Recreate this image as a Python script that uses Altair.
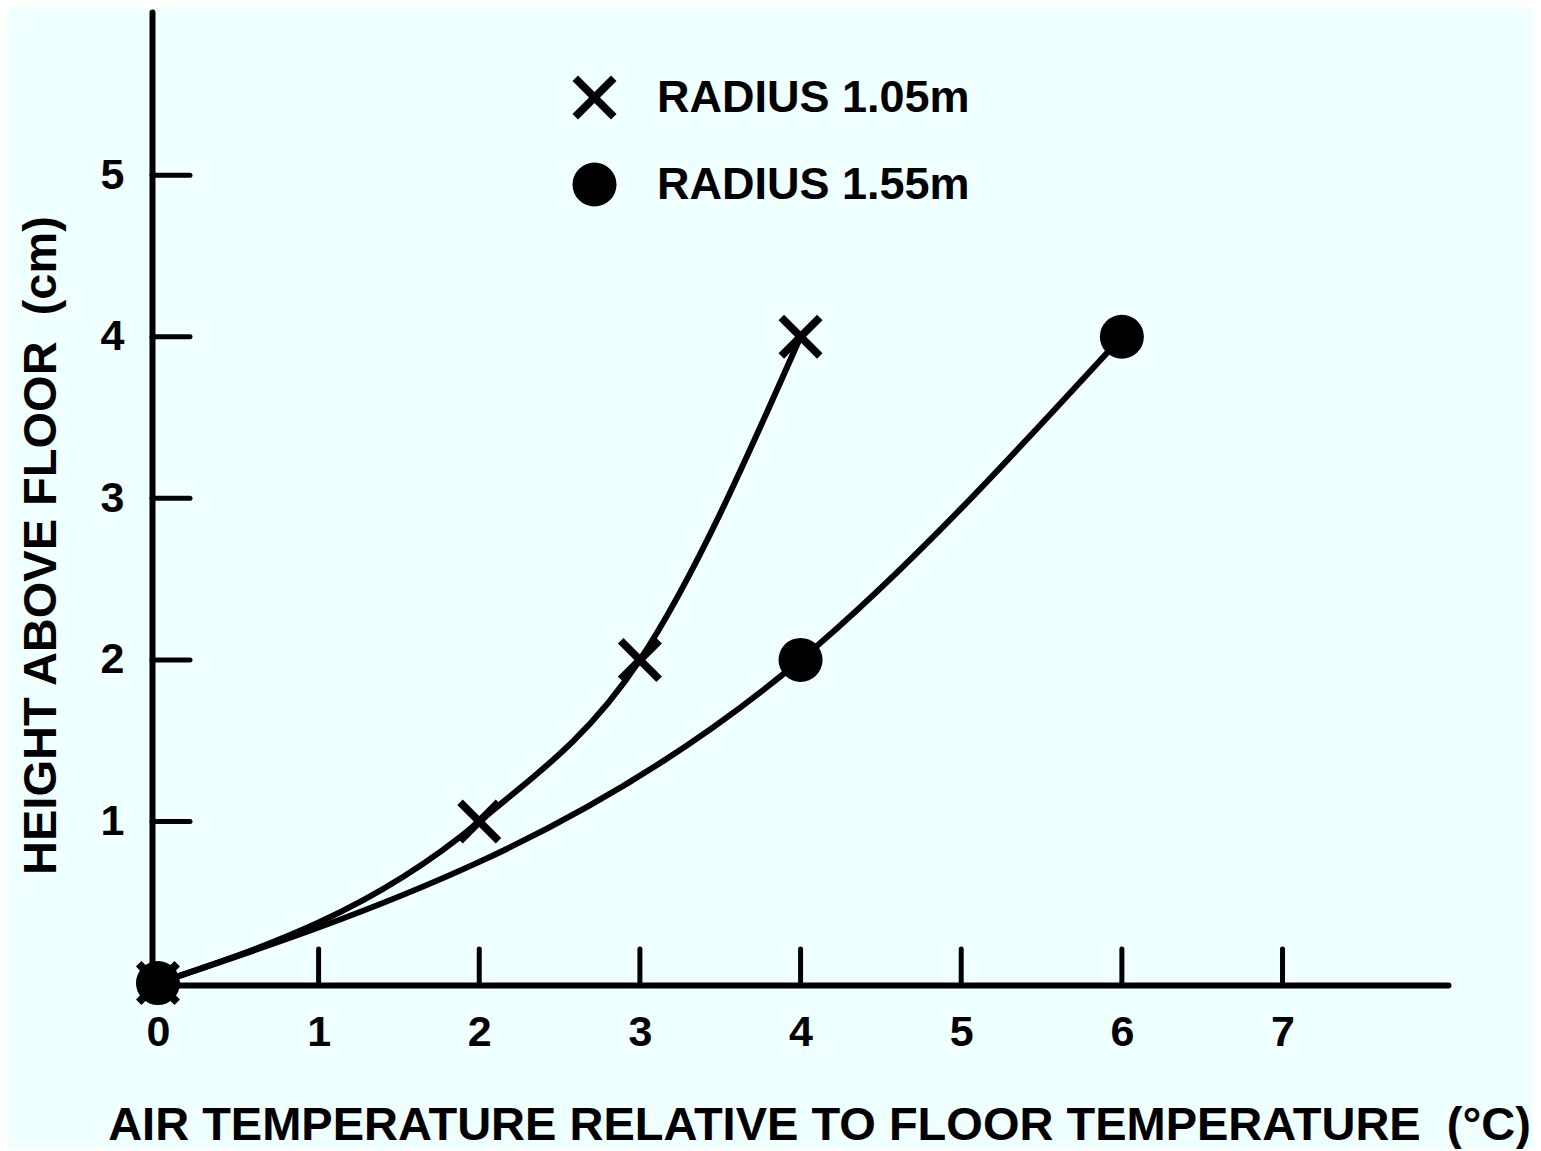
import altair as alt
import pandas as pd

# ---- data ----
series_names = ["RADIUS 1.05m", "RADIUS 1.55m"]
r105_temp = [0, 2, 3, 4]
r105_height = [0, 1, 2, 4]
r155_temp = [0, 4, 6]
r155_height = [0, 2, 4]
x_label_values = [0, 1, 2, 3, 4, 5, 6, 7]
x_tick_values = [1, 2, 3, 4, 5, 6, 7]
y_tick_values = [1, 2, 3, 4, 5]

NB = "\u00a0"
x_title = f"AIR TEMPERATURE RELATIVE TO FLOOR TEMPERATURE {NB}(°C)"
y_title = f"HEIGHT ABOVE FLOOR {NB}(cm)"

FONT = "Liberation Sans"
BG = "#F0FFFF"
W, H = 1296, 973

df = pd.DataFrame(
    {
        "temp": r105_temp + r155_temp,
        "height": r105_height + r155_height,
        "series": [series_names[0]] * len(r105_temp) + [series_names[1]] * len(r155_temp),
    }
)
xt = pd.DataFrame({"temp": x_tick_values})
yt = pd.DataFrame({"height": y_tick_values})

# filled X-shaped polygon (so both legend symbols are solid black)
d = 0.25
X_PATH = (
    f"M-1,{-1+d}L{-1+d},-1L0,{-d}L{1-d},-1L1,{-1+d}L{d},0L1,{1-d}L{1-d},1"
    f"L0,{d}L{-1+d},1L-1,{1-d}L{-d},0Z"
)

x_scale = alt.Scale(domain=[-0.037, 8.03], nice=False, zero=False)
y_scale = alt.Scale(domain=[-0.012, 6.01], nice=False, zero=False)

x_enc = alt.X(
    "temp:Q",
    scale=x_scale,
    axis=alt.Axis(
        values=x_label_values,
        format="d",
        ticks=False,
        grid=False,
        domainColor="black",
        domainWidth=6,
        domainCap="round",
        labelFont=FONT,
        labelFontSize=43,
        labelFontWeight="bold",
        labelColor="black",
        labelPadding=26,
        labelFlush=False,
        labelOverlap=False,
        title=x_title,
        titleFont=FONT,
        titleFontSize=47,
        titleFontWeight="bold",
        titleColor="black",
        titleX=667,
        titleY=140,
        titleAlign="center",
        titleBaseline="middle",
    ),
)
y_enc = alt.Y(
    "height:Q",
    scale=y_scale,
    axis=alt.Axis(
        values=y_tick_values,
        format="d",
        ticks=False,
        grid=False,
        domainColor="black",
        domainWidth=6,
        domainCap="round",
        labelFont=FONT,
        labelFontSize=43,
        labelFontWeight="bold",
        labelColor="black",
        labelPadding=28,
        labelFlush=False,
        labelOverlap=False,
        title=y_title,
        titleFont=FONT,
        titleFontSize=47,
        titleFontWeight="bold",
        titleColor="black",
        titleAngle=270,
        titleX=-111,
        titleY=533,
        titleAlign="center",
        titleBaseline="middle",
    ),
)

lines = (
    alt.Chart(df)
    .mark_line(color="black", strokeWidth=6, interpolate="monotone", strokeCap="round")
    .encode(x=x_enc, y=y_enc, detail="series:N")
)

points = (
    alt.Chart(df)
    .mark_point(filled=True, color="black", opacity=1, strokeWidth=0)
    .encode(
        x=x_enc,
        y=y_enc,
        shape=alt.Shape(
            "series:N",
            scale=alt.Scale(domain=series_names, range=[X_PATH, "circle"]),
            legend=alt.Legend(
                orient="none",
                legendX=420,
                legendY=63,
                title=None,
                padding=0,
                symbolSize=1936,
                symbolFillColor="black",
                symbolStrokeWidth=0,
                symbolOpacity=1,
                labelFont=FONT,
                labelFontSize=45,
                labelFontWeight="bold",
                labelColor="black",
                labelLimit=0,
                labelOffset=40,
                rowPadding=41,
            ),
        ),
        size=alt.value(1936),
    )
)

x_ticks = (
    alt.Chart(xt)
    .mark_rule(color="black", strokeWidth=5, strokeCap="round")
    .encode(x=x_enc, y=alt.value(H - 36), y2=alt.value(H))
)
y_ticks = (
    alt.Chart(yt)
    .mark_rule(color="black", strokeWidth=5, strokeCap="round")
    .encode(y=y_enc, x=alt.value(0), x2=alt.value(38))
)

chart = (
    alt.layer(x_ticks, y_ticks, lines, points)
    .properties(
        width=W,
        height=H,
        background=BG,
        padding={"left": 144, "top": 4, "right": 85, "bottom": 164},
        autosize=alt.AutoSizeParams(type="none"),
    )
    .configure_view(stroke=None)
)

chart.save("out.html", embed_options={"renderer": "svg", "actions": False})
